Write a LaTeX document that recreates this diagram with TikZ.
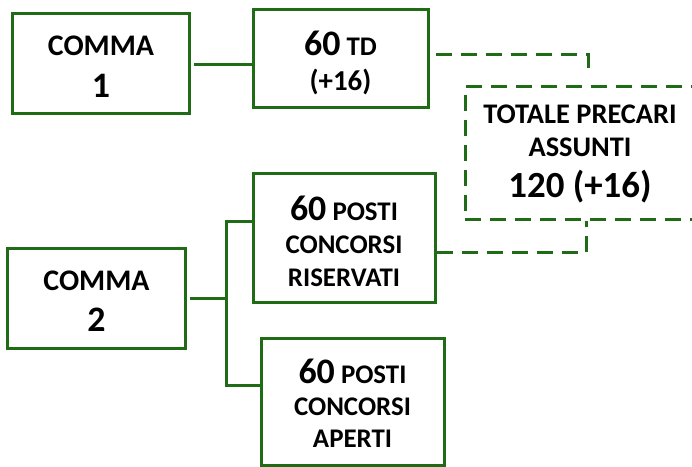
\documentclass[tikz,border=0pt]{standalone}
\usepackage{fontspec}
\setmainfont{Carlito}
\usepackage{tikz}
\usetikzlibrary{positioning}

\definecolor{boxgreen}{RGB}{32,108,22}
\newcommand\numsz{\fontsize{36}{38}\selectfont}
\newcommand\totsz{\fontsize{37}{39}\selectfont}
% struts that fix where the lines sit in a box
\newcommand\uptop[1]{\rule{0pt}{#1bp}}
\newcommand\downbot[1]{\rule[-#1bp]{0pt}{#1bp}}

\begin{document}
\begin{tikzpicture}[x=1bp,y=-1bp,on grid,
    box/.style={draw=boxgreen,line width=3bp,inner sep=0pt,align=center,
      font=\bfseries\fontsize{27}{33.5}\selectfont},
    link/.style={draw=boxgreen,line width=3bp},
    dashlink/.style={draw=boxgreen,line width=3bp,dash pattern=on 16bp off 9bp}]
   \useasboundingbox (0,0) rectangle (692,467);

   \node[box,minimum width=176bp,minimum height=100bp,
     font=\bfseries\fontsize{30}{43}\selectfont] (c1) at (101,64)
     {\uptop{33}COMMA\\{\numsz 1}\downbot{8}};
   \node[box,minimum width=175bp,minimum height=98bp,font=\bfseries\fontsize{27}{36}\selectfont]
     (td) [above right=5bp and 239.5bp of c1]
     {\uptop{36}{\numsz 60} TD\\{\fontsize{29}{36}\selectfont(+16)}\downbot{8}};
   \node[box,dashlink,minimum width=230bp,minimum height=132bp,
     font=\bfseries\fontsize{28.5}{34}\selectfont]
     (tot) [below right=94bp and 239.5bp of td]
     {\uptop{23}TOTALE PRECARI\\ASSUNTI\\[7bp]{\totsz 120 (+16)}\downbot{8}};

   \node[box,minimum width=177bp,minimum height=99bp,
     font=\bfseries\fontsize{30}{42}\selectfont] (c2) at (96.5,298.5)
     {\uptop{33}COMMA\\{\numsz 2}\downbot{8}};
   \node[box,minimum width=182bp,minimum height=129bp]
     (ris) [above right=60bp and 247.5bp of c2]
     {\uptop{38}{\numsz 60} POSTI\\CONCORSI\\RISERVATI\downbot{8}};
   \node[box,minimum width=183bp,minimum height=127bp,font=\bfseries\fontsize{27}{32.5}\selectfont]
     (ape) [below right=103bp and 256bp of c2]
     {\uptop{36}{\numsz 60} POSTI\\CONCORSI\\APERTI\downbot{8}};

   \coordinate (split) at (226,297);
   \coordinate (tdend) at ([xshift=8bp,yshift=14bp]tot.north);

   % comma 1
   \draw[link] ([xshift=3bp,yshift=-1bp]c1.east) -- ([yshift=-1bp]c1.east -| td.west);
   \draw[dashlink] ([xshift=6bp,yshift=4bp]td.east) -| (tdend);

   % comma 2
   \draw[link] ([xshift=3bp]c2.east) -- (c2.east -| split);
   \draw[link] ([yshift=17bp]ris.west) -| (split) |- ([yshift=16bp]ape.west);
   \draw[dashlink] ([yshift=-14.5bp]ris.east) -| ([xshift=6bp]tot.south);
\end{tikzpicture}
\end{document}
